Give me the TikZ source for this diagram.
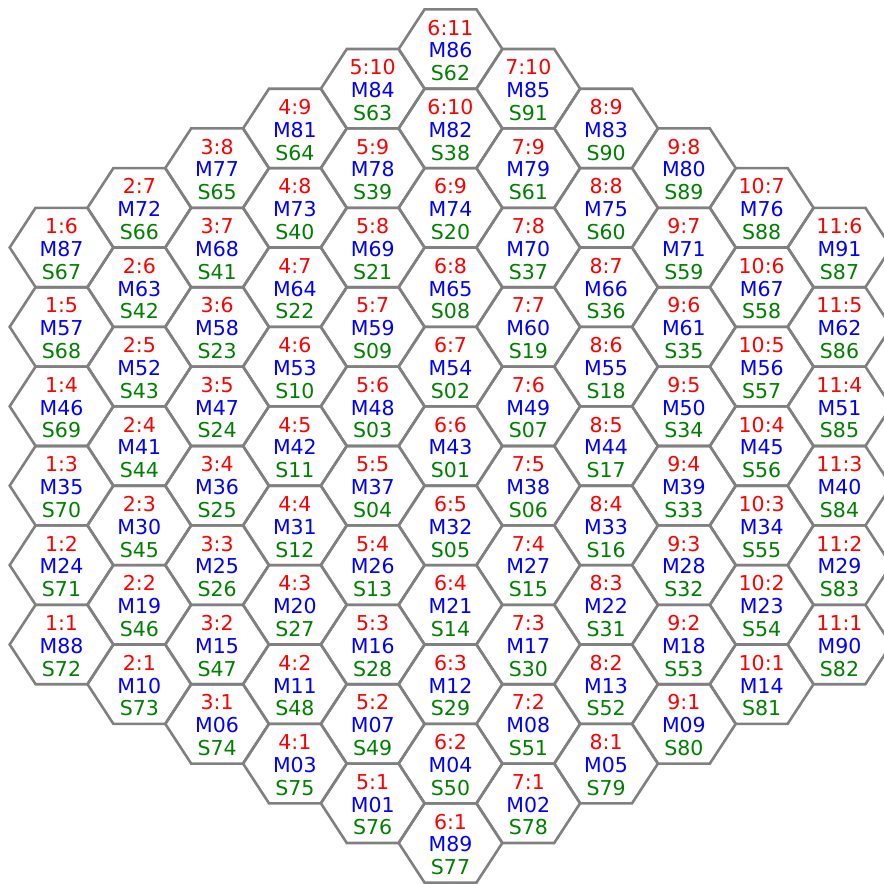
\documentclass[tikz,border=0pt]{standalone}
\usepackage{fontspec}
\setmainfont{DejaVu Sans}
\definecolor{edgegray}{RGB}{128,128,128}
\definecolor{labred}{RGB}{255,0,0}
\definecolor{labblue}{RGB}{0,0,255}
\definecolor{labgreen}{RGB}{0,128,0}
\begin{document}
\begin{tikzpicture}[x=1pt,y=-1pt,
  hexline/.style={draw=edgegray,line width=2.6pt},
  lab/.style={inner sep=0pt,anchor=base,font=\fontsize{20.5}{24}\selectfont}]
\useasboundingbox (0,0) rectangle (884,884);
\clip (0,0) rectangle (884,884);
\foreach \c/\r/\m/\s in {
1/6/87/67,1/5/57/68,1/4/46/69,1/3/35/70,1/2/24/71,1/1/88/72,
2/7/72/66,2/6/63/42,2/5/52/43,2/4/41/44,2/3/30/45,2/2/19/46,2/1/10/73,
3/8/77/65,3/7/68/41,3/6/58/23,3/5/47/24,3/4/36/25,3/3/25/26,3/2/15/47,3/1/06/74,
4/9/81/64,4/8/73/40,4/7/64/22,4/6/53/10,4/5/42/11,4/4/31/12,4/3/20/27,4/2/11/48,4/1/03/75,
5/10/84/63,5/9/78/39,5/8/69/21,5/7/59/09,5/6/48/03,5/5/37/04,5/4/26/13,5/3/16/28,5/2/07/49,5/1/01/76,
6/11/86/62,6/10/82/38,6/9/74/20,6/8/65/08,6/7/54/02,6/6/43/01,6/5/32/05,6/4/21/14,6/3/12/29,6/2/04/50,6/1/89/77,
7/10/85/91,7/9/79/61,7/8/70/37,7/7/60/19,7/6/49/07,7/5/38/06,7/4/27/15,7/3/17/30,7/2/08/51,7/1/02/78,
8/9/83/90,8/8/75/60,8/7/66/36,8/6/55/18,8/5/44/17,8/4/33/16,8/3/22/31,8/2/13/52,8/1/05/79,
9/8/80/89,9/7/71/59,9/6/61/35,9/5/50/34,9/4/39/33,9/3/28/32,9/2/18/53,9/1/09/80,
10/7/76/88,10/6/67/58,10/5/56/57,10/4/45/56,10/3/34/55,10/2/23/54,10/1/14/81,
11/6/91/87,11/5/62/86,11/4/51/85,11/3/40/84,11/2/29/83,11/1/90/82}{
  \pgfmathsetmacro{\hx}{61.5+(\c-1)*77.8}
  \pgfmathsetmacro{\hy}{843-abs(\c-6)*39.7-(\r-1)*79.4}
  \draw[hexline] (\hx,\hy) +(-51.8,0) -- +(-25.9,-39.7) -- +(25.9,-39.7)
     -- +(51.8,0) -- +(25.9,39.7) -- +(-25.9,39.7) -- cycle;
  \node[lab,text=labred] (t\c-\r) at (\hx,\hy-14) {\c:\r};
  \node[lab,text=labblue] (m\c-\r) at (\hx,\hy+8.8) {M\m};
  \node[lab,text=labgreen] (s\c-\r) at (\hx,\hy+31.6) {S\s};
}
\end{tikzpicture}
\end{document}
